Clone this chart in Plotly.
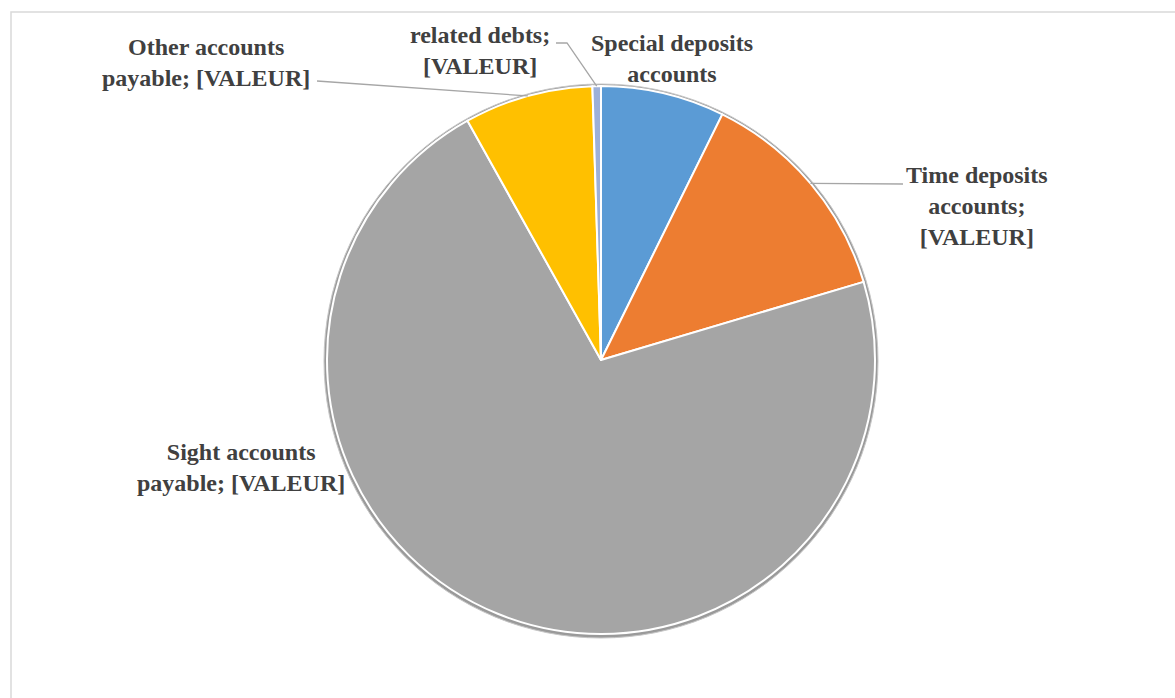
import math
import plotly.graph_objects as go

# ---- data ----
labels = ["Special deposits accounts", "Time deposits accounts", "Sight accounts payable",
          "Other accounts payable", "related debts"]
values = [7.3, 13.1, 71.5, 7.6, 0.5]
colors = ["#5B9BD5", "#ED7D31", "#A5A5A5", "#FFC000", "#9DB0D8"]
label_texts = ["<b>Special deposits<br>accounts</b>",
               "<b>Time deposits<br>accounts;<br>[VALEUR]</b>",
               "<b>Sight accounts<br>payable; [VALEUR]</b>",
               "<b>Other accounts<br>payable; [VALEUR]</b>",
               "<b>related debts;<br>[VALEUR]</b>"]

W, H = 1175, 698
CX, CY, R = 601, 360, 274


def px(x):
    return x / W


def py(y):
    return 1 - y / H


fig = go.Figure()
fig.add_trace(go.Pie(
    labels=labels, values=values, sort=False, direction="clockwise", rotation=0,
    marker=dict(colors=colors, line=dict(color="#FFFFFF", width=2)),
    textinfo="none", hoverinfo="label+percent", showlegend=False,
    domain=dict(x=[px(CX - R), px(CX + R)], y=[py(CY + R), py(CY - R)]),
))

total = sum(values)
mids = []
acc = 0
for v in values:
    mids.append((acc + v / 2) / total * 2 * math.pi)
    acc += v


def rim(i):
    a = mids[i]
    return CX + R * math.sin(a), CY - R * math.cos(a)


shapes = []
shapes.append(dict(type="rect", xref="paper", yref="paper", x0=px(11), x1=px(1190),
                   y0=py(720), y1=py(12), line=dict(color="#D9D9D9", width=1.5)))
shapes.append(dict(type="circle", xref="paper", yref="paper", layer="below",
                   x0=px(CX - R - 3), x1=px(CX + R + 3), y0=py(CY + R + 4), y1=py(CY - R - 2),
                   fillcolor="#9A9A9A", line=dict(color="#C8C8C8", width=1)))

leader_col = "#A6A6A6"
x, y = rim(1)
shapes.append(dict(type="path", xref="paper", yref="paper",
                   path=f"M {px(903)} {py(184)} L {px(x)} {py(y)}",
                   line=dict(color=leader_col, width=1.3)))
x, y = rim(3)
shapes.append(dict(type="path", xref="paper", yref="paper",
                   path=f"M {px(317)} {py(81)} L {px(x)} {py(y)}",
                   line=dict(color=leader_col, width=1.3)))
x, y = rim(4)
shapes.append(dict(type="path", xref="paper", yref="paper",
                   path=f"M {px(556)} {py(43)} L {px(567)} {py(43)} L {px(x)} {py(y)}",
                   line=dict(color=leader_col, width=1.3)))

label_pos = [(672, 58), (977, 206), (241, 467), (206, 62), (480, 51)]
annotations = []
for t, (lx, ly) in zip(label_texts, label_pos):
    annotations.append(dict(text=t, x=px(lx), y=py(ly), xref="paper", yref="paper",
                            xanchor="center", yanchor="middle", showarrow=False, align="center",
                            font=dict(family="Liberation Serif", size=24, color="#404040")))

fig.update_layout(width=W, height=H, margin=dict(l=0, r=0, t=0, b=0),
                  paper_bgcolor="white", plot_bgcolor="white",
                  font=dict(family="Liberation Serif"),
                  shapes=shapes, annotations=annotations)

fig.write_html("out.html")
